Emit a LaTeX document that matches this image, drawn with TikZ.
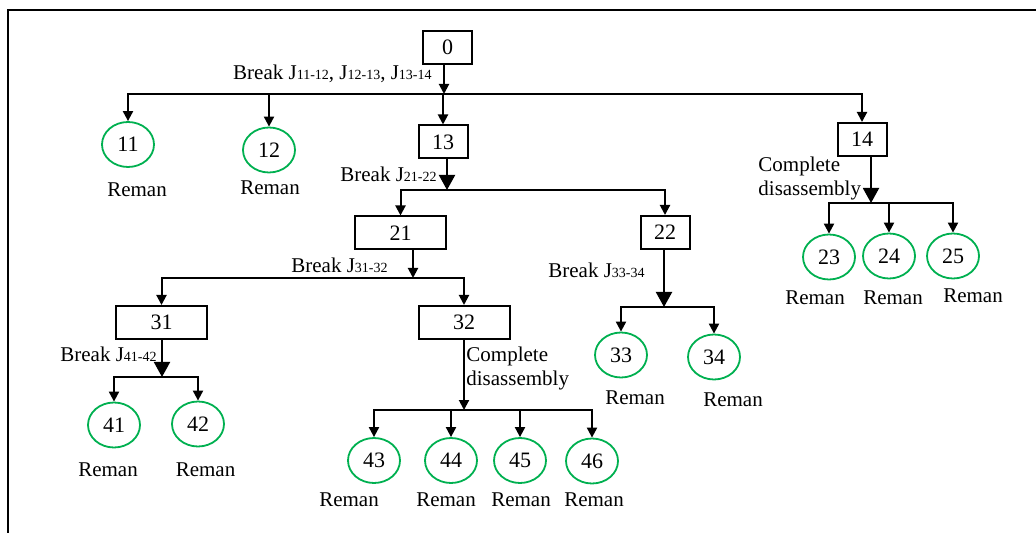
\documentclass[tikz,border=0pt]{standalone}
\usepackage{fontspec}
\setmainfont{Liberation Serif}
\usetikzlibrary{
  arrows.meta,
  shapes.geometric
}
\definecolor{dsGreen}{HTML}{00B050}
\newcommand{\jsub}[1]{J{\fontsize{7}{8}\selectfont #1}}
\tikzset{
  dsnode/.style={font=\fontsize{10.5}{12}\selectfont, inner sep=0pt},
  partbox/.style={dsnode, draw, line width=1pt, minimum height=16.5pt, minimum width=24.5pt, font=\fontsize{11}{12}\selectfont},
  widebox/.style={partbox, minimum width=45.5pt},
  leaf/.style={dsnode, ellipse, draw=dsGreen, line width=0.9pt, minimum width=26pt, minimum height=22.5pt, font=\fontsize{11}{12}\selectfont},
  reman/.style={dsnode},
  cut/.style={dsnode, anchor=base east},
  note/.style={dsnode, align=left, anchor=north west},
  bus/.style={line width=1pt, line cap=rect},
  drop/.style={line width=1pt, -{Triangle[length=5pt, width=5pt]}},
  stem/.style={drop},
  heavystem/.style={line width=1pt, -{Triangle[length=7.5pt, width=8pt]}}
}

\begin{document}
\begin{tikzpicture}[x=0.5pt, y=-0.5pt]
  \useasboundingbox (0,0) rectangle (1036,533);
  \draw[line width=1pt] (1036,10) -- (8,10) -- (8,533);

  % parts and leaves
  \node[partbox] (n0) at (447.5,47.5) {0};
  \node[leaf] (n11) at (128,144.5) {11};
  \node[leaf] (n12) at (269,150) {12};
  \node[partbox] (n13) at (443,142) {13};
  \node[partbox] (n14) at (862,139.5) {14};
  \node[widebox] (n21) at (400.5,233) {21};
  \node[partbox] (n22) at (665,232.5) {22};
  \node[leaf] (n23) at (829,257) {23};
  \node[leaf] (n24) at (889,256) {24};
  \node[leaf] (n25) at (953,256) {25};
  \node[widebox] (n31) at (161.5,322.5) {31};
  \node[widebox] (n32) at (464,322.5) {32};
  \node[leaf] (n33) at (621,355) {33};
  \node[leaf] (n34) at (714,357) {34};
  \node[leaf] (n41) at (114,425) {41};
  \node[leaf] (n42) at (198,424) {42};
  \node[leaf] (n43) at (374,460.5) {43};
  \node[leaf] (n44) at (451,460.5) {44};
  \node[leaf] (n45) at (520,460.5) {45};
  \node[leaf] (n46) at (592,461) {46};

  \node[reman] (r11) at (137,190) {Reman};
  \node[reman] (r12) at (270,188) {Reman};
  \node[reman] (r23) at (815,298) {Reman};
  \node[reman] (r24) at (893,298) {Reman};
  \node[reman] (r25) at (973,296) {Reman};
  \node[reman] (r33) at (635,398) {Reman};
  \node[reman] (r34) at (733,400) {Reman};
  \node[reman] (r41) at (108,469.5) {Reman};
  \node[reman] (r42) at (205.5,469.5) {Reman};
  \node[reman] (r43) at (349,500) {Reman};
  \node[reman] (r44) at (446,500) {Reman};
  \node[reman] (r45) at (521,500) {Reman};
  \node[reman] (r46) at (594,500) {Reman};

  % joints that are broken at each step
  \node[cut] (c0) at (432,80) {Break \jsub{11-12}, \jsub{12-13}, \jsub{13-14}};
  \node[cut] (c13) at (437,182) {Break \jsub{21-22}};
  \node[cut] (c21) at (388,273) {Break \jsub{31-32}};
  \node[cut] (c22) at (645,278) {Break \jsub{33-34}};
  \node[cut] (c31) at (157,361) {Break \jsub{41-42}};
  \node[note] (c14) at (758,157) {Complete\\disassembly};
  \node[note] (c32) at (466,347) {Complete\\disassembly};

  % busses
  \coordinate (b0) at (444,94);
  \coordinate (b13) at (447,190);
  \coordinate (b14) at (871,203);
  \coordinate (b21) at (413,278);
  \coordinate (b22) at (664,307);
  \coordinate (b31) at (162,377);
  \coordinate (b32) at (464,410);

  \draw[stem] (n0.south -| b0) -- (b0);
  \draw[heavystem] (n13.south -| b13) -- (b13);
  \draw[heavystem] (n14.south -| b14) -- (b14);
  \draw[stem] (n21.south -| b21) -- (b21);
  \draw[heavystem] (n22.south -| b22) -- (b22);
  \draw[heavystem] (n31.south -| b31) -- (b31);
  \draw[stem] (n32.south -| b32) -- (b32);

  \draw[bus] (n11.north |- b0) -- (n14.north |- b0);
  \draw[bus] (n21.north |- b13) -- (n22.north |- b13);
  \draw[bus] (n23.north |- b14) -- (n25.north |- b14);
  \draw[bus] (n31.north |- b21) -- (n32.north |- b21);
  \draw[bus] (n33.north |- b22) -- (n34.north |- b22);
  \draw[bus] (n41.north |- b31) -- (n42.north |- b31);
  \draw[bus] (n43.north |- b32) -- (n46.north |- b32);

  \foreach \c in {n11,n12,n13,n14} \draw[drop] (\c.north |- b0) -- (\c.north);
  \foreach \c in {n21,n22} \draw[drop] (\c.north |- b13) -- (\c.north);
  \foreach \c in {n23,n24,n25} \draw[drop] (\c.north |- b14) -- (\c.north);
  \foreach \c in {n31,n32} \draw[drop] (\c.north |- b21) -- (\c.north);
  \foreach \c in {n33,n34} \draw[drop] (\c.north |- b22) -- (\c.north);
  \foreach \c in {n41,n42} \draw[drop] (\c.north |- b31) -- (\c.north);
  \foreach \c in {n43,n44,n45,n46} \draw[drop] (\c.north |- b32) -- (\c.north);
\end{tikzpicture}
\end{document}
